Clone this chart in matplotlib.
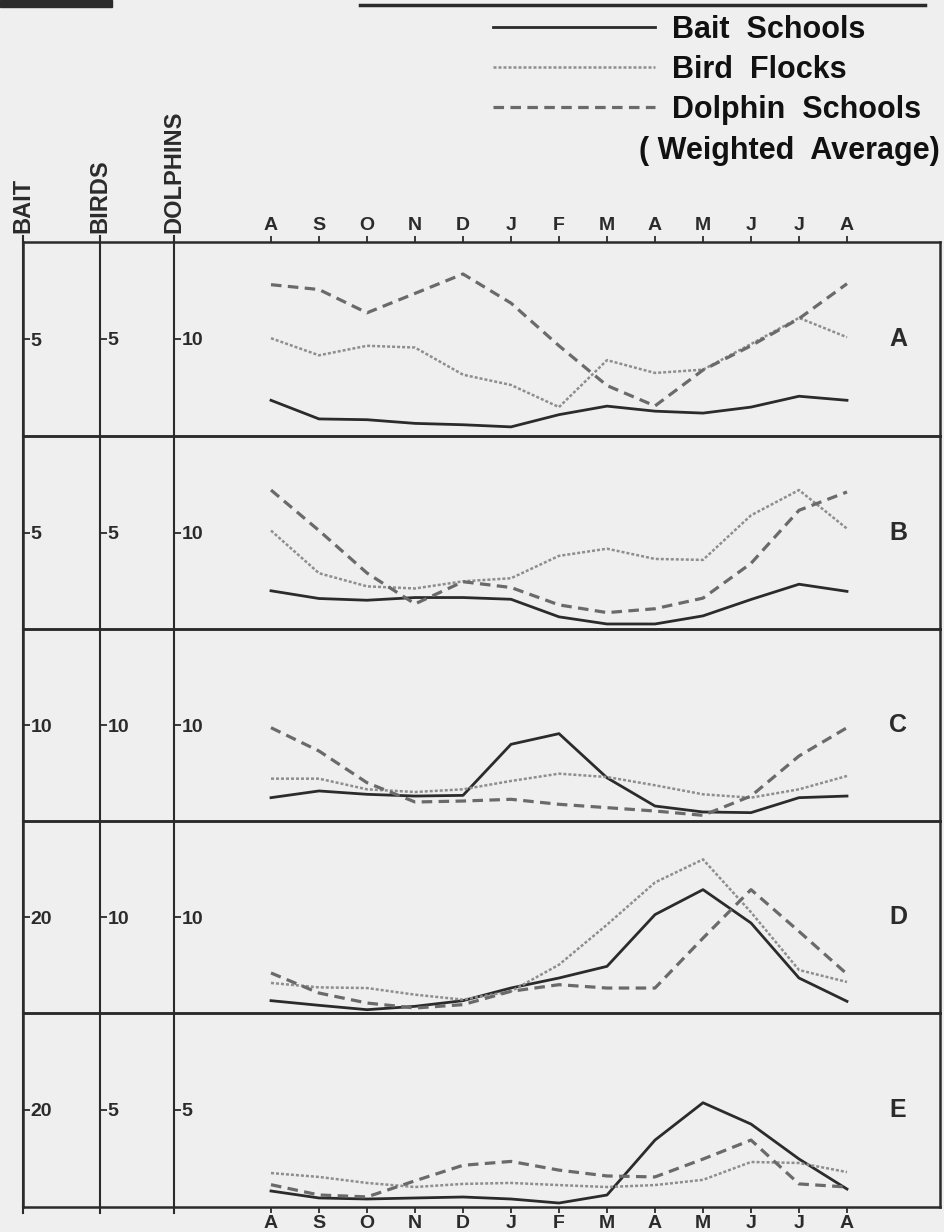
import matplotlib
matplotlib.use('Agg')
from matplotlib import pyplot as plt
from matplotlib.lines import Line2D
from matplotlib.patches import Rectangle

############# Data

months = ['A', 'S', 'O', 'N', 'D', 'J', 'F', 'M', 'A', 'M', 'J', 'J', 'A']
panel_names = ['A', 'B', 'C', 'D', 'E']

# one tick per scale and panel, each panel spans 0 .. 2*tick
bait_ticks = [5, 5, 10, 20, 20]
bird_ticks = [5, 5, 10, 10, 5]
dolphin_ticks = [10, 10, 10, 10, 5]

bait_a = [1.84, 0.88, 0.84, 0.65, 0.58, 0.47, 1.1, 1.54, 1.28, 1.18, 1.49, 2.05, 1.84]
birds_a = [5.04, 4.16, 4.65, 4.56, 3.16, 2.63, 1.49, 3.91, 3.25, 3.42, 4.74, 6.09, 5.09]
dolphins_a = [15.6, 15.1, 12.7, 14.7, 16.7, 13.7, 9.3, 5.2, 3.1, 6.8, 9.3, 12.1, 15.7]

bait_b = [1.98, 1.58, 1.49, 1.63, 1.63, 1.54, 0.63, 0.26, 0.26, 0.68, 1.53, 2.32, 1.95]
birds_b = [5.1, 2.89, 2.21, 2.1, 2.47, 2.63, 3.79, 4.16, 3.63, 3.58, 5.89, 7.2, 5.2]
dolphins_b = [14.4, 10.2, 5.8, 2.6, 4.9, 4.3, 2.5, 1.7, 2.1, 3.2, 6.8, 12.3, 14.2]

bait_c = [2.43, 3.13, 2.78, 2.6, 2.67, 7.99, 9.1, 4.5, 1.56, 0.94, 0.87, 2.43, 2.6]
birds_c = [4.41, 4.41, 3.3, 3.02, 3.3, 4.17, 4.93, 4.58, 3.72, 2.78, 2.43, 3.3, 4.69]
dolphins_c = [9.72, 7.29, 3.99, 1.98, 2.08, 2.26, 1.74, 1.39, 1.04, 0.59, 2.6, 6.77, 9.72]

bait_d = [2.57, 1.6, 0.69, 1.39, 2.57, 5.21, 7.29, 9.72, 20.5, 25.7, 18.75, 7.29, 2.43]
birds_d = [3.13, 2.67, 2.6, 1.91, 1.39, 2.26, 5.03, 9.2, 13.6, 16.0, 10.5, 4.48, 3.23]
dolphins_d = [4.17, 2.08, 1.04, 0.52, 0.87, 2.26, 2.95, 2.6, 2.6, 7.8, 12.85, 8.5, 4.06]

bait_e = [3.3, 1.86, 1.65, 1.86, 2.06, 1.65, 0.82, 2.47, 13.8, 21.5, 17.1, 9.9, 3.7]
birds_e = [1.75, 1.55, 1.24, 1.03, 1.19, 1.24, 1.13, 1.03, 1.13, 1.4, 2.32, 2.27, 1.8]
dolphins_e = [1.15, 0.62, 0.52, 1.35, 2.15, 2.35, 1.9, 1.6, 1.55, 2.47, 3.45, 1.19, 1.03]

bait = [bait_a, bait_b, bait_c, bait_d, bait_e]
birds = [birds_a, birds_b, birds_c, birds_d, birds_e]
dolphins = [dolphins_a, dolphins_b, dolphins_c, dolphins_d, dolphins_e]

############# Layout (pixels of the 944x1232 page)

W, H = 944, 1232
x_left, x_right = 23, 940
edges = [242, 436, 629, 821, 1013, 1207]
x_first, dx = 271, 48.0
xlim = ((x_left - x_first) / dx, (x_right - x_first) / dx)
x_birds = (100 - x_first) / dx
x_dolph = (174 - x_first) / dx

ink = '#2b2b2b'
paper = '#efefef'
font = ['Liberation Sans', 'DejaVu Sans']
plt.rcParams['font.family'] = font

fig = plt.figure(figsize=(W / 100, H / 100), dpi=100, facecolor=paper)


def style_yaxis(a, tick, spine_pos):
    a.set_ylim(0, 2 * tick)
    a.set_yticks([tick])
    a.set_yticklabels([str(tick)])
    a.yaxis.tick_right()
    a.spines['right'].set_position(spine_pos)
    a.spines['right'].set_linewidth(1.5)
    a.spines['right'].set_color(ink)
    a.tick_params(axis='y', direction='out', length=5, width=1.3, pad=0.5,
                  labelsize=14, colors=ink)
    for lab in a.get_yticklabels():
        lab.set_fontweight('bold')


handles = None
axes_list = []
for i in range(5):
    top, bot = edges[i], edges[i + 1]
    ax = fig.add_axes([x_left / W, 1 - bot / H, (x_right - x_left) / W, (bot - top) / H])
    ax.set_facecolor('none')
    ax2 = ax.twinx()
    ax3 = ax.twinx()
    for a in (ax, ax2, ax3):
        a.set_xlim(*xlim)
        for s in a.spines.values():
            s.set_visible(False)

    # frame
    for side in ('left', 'top', 'bottom'):
        ax.spines[side].set_visible(True)
        ax.spines[side].set_linewidth(1.8)
        ax.spines[side].set_color(ink)
    ax2.spines['left'].set_visible(True)
    ax2.spines['left'].set_position(('axes', 1.0))
    ax2.spines['left'].set_linewidth(1.8)
    ax2.spines['left'].set_color(ink)

    # three y scales
    for a in (ax, ax2, ax3):
        a.spines['right'].set_visible(True)
    style_yaxis(ax, bait_ticks[i], ('axes', 0.0))
    style_yaxis(ax2, bird_ticks[i], ('data', x_birds))
    style_yaxis(ax3, dolphin_ticks[i], ('data', x_dolph))

    x = list(range(len(months)))
    l1, = ax.plot(x, bait[i], color=ink, lw=2.0, solid_joinstyle='round')
    l2, = ax2.plot(x, birds[i], color='#8e8e8e', lw=1.8, linestyle=(0, (1.2, 0.8)))
    l3, = ax3.plot(x, dolphins[i], color='#6a6a6a', lw=2.3, linestyle=(0, (3.3, 2.0)))
    if handles is None:
        handles = [l1, l2, l3]

    ax.text(13.06, 0.5, panel_names[i], transform=ax.get_xaxis_transform(),
            ha='center', va='center', fontsize=18, fontweight='bold', color=ink)

    # month axis only at top and bottom
    ax.set_xticks(x)
    ax.tick_params(axis='x', direction='out', length=4, width=1.3, pad=2,
                   labelsize=14, colors=ink)
    if i == 0:
        ax.xaxis.set_ticks_position('top')
        ax.set_xticklabels(months)
    elif i == 4:
        ax.xaxis.set_ticks_position('bottom')
        ax.set_xticklabels(months)
    else:
        ax.tick_params(axis='x', which='both', bottom=False, top=False,
                       labelbottom=False, labeltop=False)
    for lab in ax.get_xticklabels():
        lab.set_fontweight('bold')
    axes_list.append(ax)

# scale lines poke out above and below the frame, names on top
ax_top, ax_bot = axes_list[0], axes_list[-1]
for xv, name in zip([xlim[0], x_birds, x_dolph], ['BAIT', 'BIRDS', 'DOLPHINS']):
    ax_top.axvline(xv, ymin=1.0, ymax=1.03, color=ink, lw=1.5, clip_on=False)
    ax_bot.axvline(xv, ymin=-0.03, ymax=0.0, color=ink, lw=1.5, clip_on=False)
    ax_top.text(xv, 1.045, name, transform=ax_top.get_xaxis_transform(), rotation=90,
                ha='center', va='bottom', fontsize=17, fontweight='bold', color=ink)

# legend block at top right
leg = fig.legend(handles=handles, labels=['Bait  Schools', 'Bird  Flocks', 'Dolphin  Schools'],
                 loc='upper left', bbox_to_anchor=(493 / W, 1 - 15 / H), frameon=False,
                 handlelength=5.3, handletextpad=0.55, labelspacing=0.32,
                 borderpad=0, borderaxespad=0,
                 prop={'family': font, 'weight': 'bold', 'size': 22})
for t in leg.get_texts():
    t.set_color('#111111')
fig.text(940 / W, 1 - 151 / H, '( Weighted  Average)', ha='right', va='center',
         fontsize=22, fontweight='bold', color='#111111')

# rule and the dark scrap at the top edge of the scan
fig.add_artist(Line2D([360 / W, 925 / W], [1 - 5 / H, 1 - 5 / H], color=ink, lw=2.5))
fig.add_artist(Rectangle((0, 1 - 7 / H), 112 / W, 7 / H, color=ink, transform=fig.transFigure))

fig.savefig('out.png', dpi=100, facecolor=fig.get_facecolor())
